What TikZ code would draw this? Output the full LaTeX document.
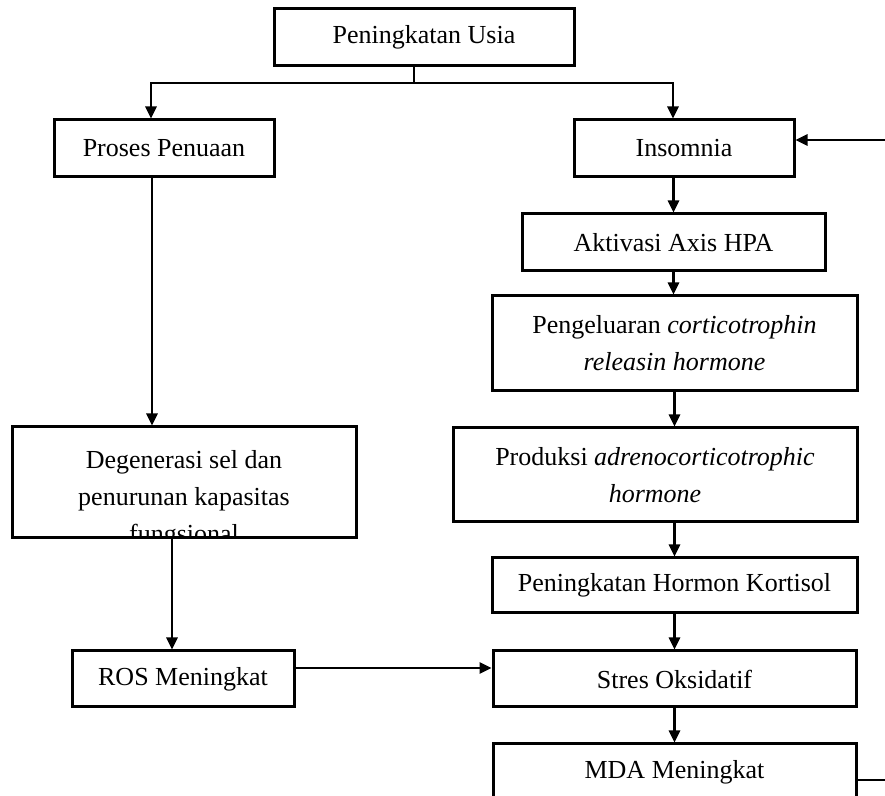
\documentclass[tikz,border=0pt]{standalone}
\usepackage{fontspec}
\setmainfont{Liberation Serif}
\usetikzlibrary{arrows.meta}

\begin{document}
\begin{tikzpicture}[x=0.5pt,y=-0.5pt,
  flowtext/.style={font=\fontsize{13}{18.5}\selectfont,align=center},
  flowbox/.style={draw=black,line width=1.5pt,inner sep=2pt,flowtext},
  flowline/.style={line width=1.35pt},
  flowarrow/.style={flowline,-{Triangle[length=6pt,width=5.5pt]}}]
\clip (0,0) rectangle (885,796);
% left branch
\node[flowbox,minimum width=150pt,minimum height=28.5pt] (usia) at (424,37.5) {Peningkatan Usia};
\node[flowbox,minimum width=110pt,minimum height=28.5pt] (proses) at (164,148.5) {Proses Penuaan};
\node[flowbox,minimum width=172pt,minimum height=55.5pt,
      path picture={\node[flowtext] at ([yshift=-8.5pt]path picture bounding box.center)
        {Degenerasi sel dan\\penurunan kapasitas\\fungsional};}] (degen) at (184,482.5) {};
\node[flowbox,minimum width=111pt,minimum height=28pt] (ros) at (183,679) {ROS Meningkat};
% right branch
\node[flowbox,minimum width=110pt,minimum height=28.5pt] (insom) at (684,148.5) {Insomnia};
\node[flowbox,minimum width=151.5pt,minimum height=28.5pt] (hpa) at (673.5,242.5) {Aktivasi Axis HPA};
\node[flowbox,minimum width=182.5pt,minimum height=47.5pt] (peng) at (674.5,343.5)
  {Pengeluaran \textit{corticotrophin}\\\textit{releasin hormone}};
\node[flowbox,minimum width=202pt,minimum height=47pt] (prod) at (655,475)
  {Produksi \textit{adrenocorticotrophic}\\\textit{hormone}};
\node[flowbox,minimum width=182.5pt,minimum height=27.5pt] (kort) at (674.5,585.5) {Peningkatan Hormon Kortisol};
\node[flowbox,minimum width=181.5pt,minimum height=28pt] (stres) at (674.5,679) {Stres Oksidatif};
\node[flowbox,minimum width=181.5pt,minimum height=28pt] (mda) at (674.5,772) {MDA Meningkat};

\coordinate (split) at (414,83);
\coordinate (feedin) at (885,140);
\coordinate (feedout) at (885,780);

\draw[flowline] (usia.south -| split) -- (split);
\draw[flowarrow] (split) -| ([xshift=-6.5pt]proses.north);
\draw[flowarrow] (split) -| ([xshift=-5.5pt]insom.north);
\draw[flowarrow] ([xshift=-6pt]proses.south) -- ([xshift=-6pt]proses.south |- degen.north);
\draw[flowarrow] ([xshift=-6pt]degen.south) -- ([xshift=-6pt]degen.south |- ros.north);
\draw[flowarrow] ([yshift=5.5pt]ros.east) -- ([yshift=5.5pt]ros.east -| stres.west);
\draw[flowarrow] (feedin) -- (feedin -| insom.east);
\draw[flowarrow] (insom.south -| hpa.north) -- (hpa.north);
\draw[flowarrow] (hpa.south) -- (hpa.south |- peng.north);
\draw[flowarrow] (peng.south) -- (peng.south |- prod.north);
\draw[flowarrow] (kort.north |- prod.south) -- (kort.north);
\draw[flowarrow] (kort.south) -- (stres.north);
\draw[flowarrow] (stres.south) -- (mda.north);
\draw[flowline] (feedout -| mda.east) -- (feedout);
\end{tikzpicture}
\end{document}
